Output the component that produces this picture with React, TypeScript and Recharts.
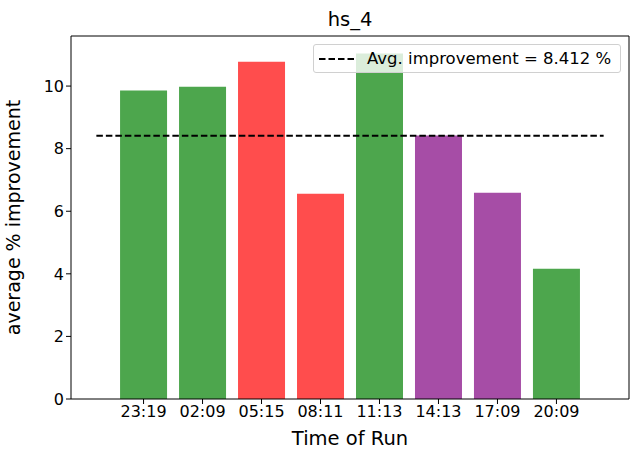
import * as React from "react";
import { Bar, Cell, ComposedChart, Label, ReferenceLine, XAxis, YAxis } from "recharts";

const runTimes = ["23:19", "02:09", "05:15", "08:11", "11:13", "14:13", "17:09", "20:09"];
const improvement = [9.86, 9.98, 10.78, 6.56, 11.04, 8.42, 6.59, 4.16];
const barColors = ["#4da64d", "#4da64d", "#ff4d4d", "#ff4d4d", "#4da64d", "#a64da6", "#a64da6", "#4da64d"];
const avgImprovement = 8.412;
const yTicks = [0, 2, 4, 6, 8, 10];

const data = runTimes.map((t, i) => ({ x: i, label: t, value: improvement[i] }));

const font = "DejaVu Sans, sans-serif";

export default function App() {
    return (
        <div style={{ position: "absolute", left: 0, top: 0, width: 640, height: 463, fontFamily: font, background: "#fff" }}>
            <div style={{ position: "absolute", top: 8, left: 71, width: 558, textAlign: "center", fontSize: 19.5, lineHeight: "24px", color: "#000" }}>
                hs_4
            </div>
            <ComposedChart
                width={640}
                height={463}
                data={data}
                margin={{ top: 36, right: 11, left: 21, bottom: 24 }}
            >
                <XAxis
                    type="number"
                    dataKey="x"
                    domain={[-1.23, 8.23]}
                    ticks={[0, 1, 2, 3, 4, 5, 6, 7]}
                    tickFormatter={(v: number) => runTimes[v]}
                    allowDataOverflow
                    height={40}
                    tickSize={5}
                    stroke="#000"
                    tick={{ fill: "#000", fontSize: 16, fontFamily: font }}
                    axisLine={{ stroke: "#000" }}
                >
                    <Label value="Time of Run" position="insideBottom" offset={-6} style={{ fill: "#000", fontSize: 19.5, fontFamily: font }} />
                </XAxis>
                <YAxis
                    type="number"
                    domain={[0, 11.6]}
                    ticks={yTicks}
                    allowDataOverflow
                    width={50}
                    tickSize={5}
                    stroke="#000"
                    tick={{ fill: "#000", fontSize: 16, fontFamily: font }}
                >
                    <Label value="average % improvement" angle={-90} position="insideLeft" offset={-8} style={{ fill: "#000", fontSize: 19, fontFamily: font, textAnchor: "middle" }} />
                </YAxis>
                <Bar dataKey="value" barSize={47} isAnimationActive={false}>
                    {data.map((d, i) => (
                        <Cell key={d.label} fill={barColors[i]} />
                    ))}
                </Bar>
                <ReferenceLine
                    segment={[{ x: -0.8, y: avgImprovement }, { x: 7.8, y: avgImprovement }]}
                    stroke="#000"
                    strokeWidth={2}
                    strokeDasharray="6.5 3"
                />
                <ReferenceLine y={11.6} stroke="#000" />
                <ReferenceLine x={8.23} stroke="#000" />
            </ComposedChart>
            <div
                style={{
                    position: "absolute",
                    left: 313,
                    top: 44,
                    width: 308,
                    height: 29,
                    boxSizing: "border-box",
                    border: "1px solid #d0d0d0",
                    borderRadius: 3,
                    background: "rgba(255,255,255,0.8)",
                    display: "flex",
                    alignItems: "center",
                    fontSize: 16.5,
                    color: "#000",
                }}
            >
                <svg width={48} height={10} style={{ flex: "none" }}>
                    <line x1={5} y1={5} x2={40} y2={5} stroke="#000" strokeWidth={2} strokeDasharray="6.5 3" />
                </svg>
                <span style={{ whiteSpace: "nowrap", marginLeft: 5 }}>Avg. improvement = 8.412 %</span>
            </div>
        </div>
    );
}
